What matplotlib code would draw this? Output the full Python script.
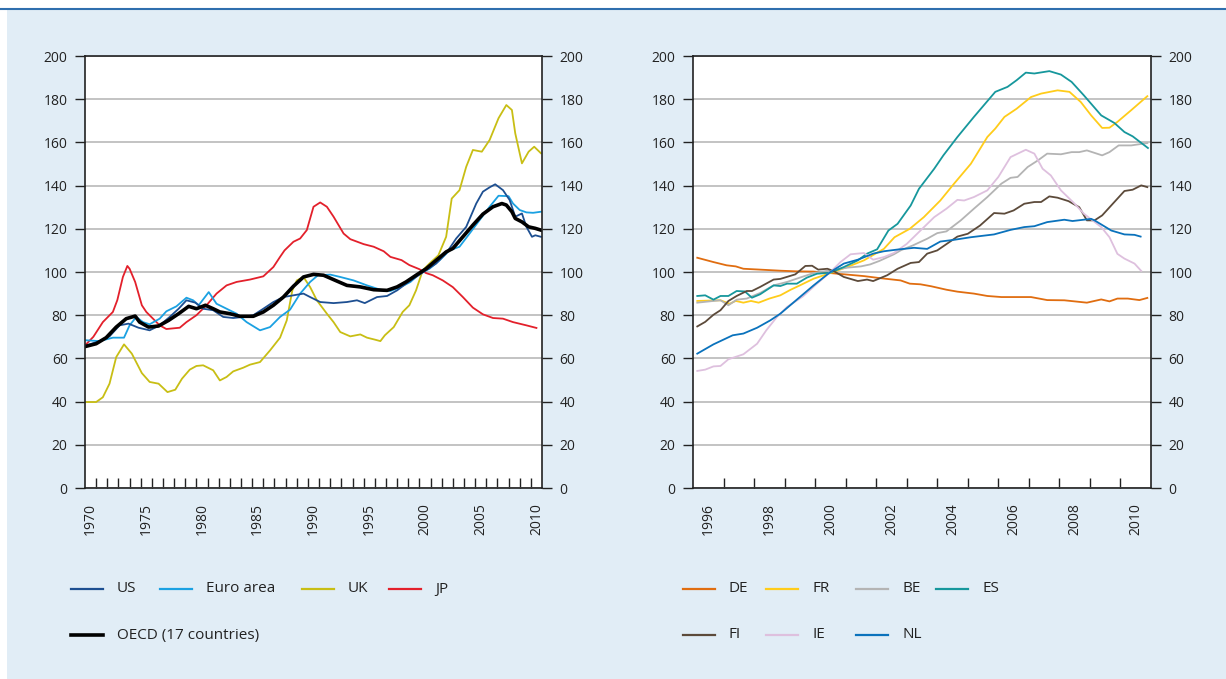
import matplotlib
matplotlib.use("Agg")
import matplotlib.pyplot as plt
from matplotlib.lines import Line2D
from matplotlib.patches import Rectangle

plt.rcParams['font.family'] = ['Open Sans', 'DejaVu Sans']

# ---------------- Data: left panel (1970-2010) ----------------
us_x = [1970.1, 1971.3, 1972.2, 1973.1, 1973.9, 1974.8, 1975.8, 1976.7, 1977.6, 1978.4, 1979.1, 1979.9,
        1980.6, 1981.5, 1982.4, 1983.3, 1984.2, 1985.1, 1986.0, 1986.9, 1987.8, 1988.7, 1989.6, 1990.2,
        1991.1, 1992.3, 1993.5, 1994.4, 1995.1, 1996.2, 1997.1, 1998.0, 1998.8, 1999.7, 2000.6, 2001.5,
        2002.4, 2003.3, 2004.2, 2005.1, 2005.7, 2006.3, 2006.8, 2007.5, 2008.1, 2008.6, 2009.2, 2009.6,
        2010.1, 2010.4, 2010.9]
us_y = [66, 68, 70.2, 75.3, 76.1, 74.2, 73, 75.3, 79.2, 83, 86.9, 85.8,
        83, 82.3, 79.2, 78.7, 79.2, 80, 83, 86.1, 88.4, 89.2, 90, 88.4,
        86.1, 85.6, 86.1, 86.9, 85.6, 88.4, 88.9, 91.5, 94.6, 97.7, 100.8, 103.9,
        108.6, 115.5, 120.9, 131.7, 137.2, 139.2, 140.6, 137.9, 133.3, 125.6, 127.1, 120.9,
        116.3, 117, 116.3]

euro_x = [1970.1, 1971.3, 1972.5, 1973.5, 1974.0, 1974.6, 1975.2, 1975.8, 1976.7, 1977.3, 1978.2, 1979.1,
          1979.7, 1980.2, 1981.1, 1981.8, 1982.7, 1983.6, 1984.5, 1985.7, 1986.6, 1987.5, 1988.4, 1989.3,
          1990.2, 1990.9, 1992.0, 1992.9, 1994.1, 1995.3, 1996.5, 1997.4, 1998.3, 1999.2, 2000.0, 2000.9,
          2001.8, 2002.7, 2003.6, 2004.5, 2005.4, 2006.3, 2007.1, 2008.0, 2008.4, 2009.0, 2009.6, 2010.2,
          2010.9]
euro_y = [68.4, 68, 69.6, 69.6, 75.3, 79.2, 76.8, 75.8, 78.4, 81.8, 84.1, 88.1,
          86.9, 84.6, 90.7, 85.3, 83, 80.7, 76.8, 73, 74.5, 79.2, 82.6, 90,
          95.4, 98.5, 98.8, 97.7, 96.1, 93.8, 91.8, 91.2, 93, 95.4, 99.2, 101.5,
          105.4, 110, 111.7, 117.8, 124, 130.2, 135.3, 135.1, 131.7, 128.7, 127.6, 127.4,
          127.9]

uk_x = [1970.1, 1971.0, 1971.6, 1972.2, 1972.8, 1973.5, 1974.2, 1975.1, 1975.8, 1976.6, 1977.4, 1978.1,
        1978.7, 1979.4, 1980.0, 1980.6, 1981.5, 1982.1, 1982.7, 1983.3, 1984.2, 1984.8, 1985.7, 1986.6,
        1987.5, 1988.1, 1988.6, 1989.0, 1989.6, 1990.2, 1990.8, 1991.7, 1992.3, 1992.9, 1993.8, 1994.7,
        1995.3, 1996.0, 1996.5, 1996.9, 1997.7, 1998.5, 1999.1, 1999.7, 2000.3, 2000.9, 2001.7, 2002.4,
        2002.9, 2003.6, 2004.2, 2004.8, 2005.6, 2006.3, 2007.1, 2007.8, 2008.3, 2008.6, 2009.2, 2009.8,
        2010.3, 2010.9]
uk_y = [39.8, 39.8, 42, 48.3, 60.6, 66.5, 62.2, 53.2, 49.1, 48.3, 44.4, 45.5,
        50.6, 54.8, 56.5, 56.8, 54.5, 49.8, 51.4, 54, 55.7, 57.1, 58.3, 63.7,
        69.6, 77.6, 91.5, 96.1, 97.7, 93, 86.9, 80.7, 76.8, 72.2, 70.2, 71.1,
        69.6, 68.7, 68, 70.7, 74.5, 81.5, 84.6, 91.5, 100.8, 103.9, 107.7, 116.3,
        134, 137.9, 148.7, 156.5, 155.7, 161.1, 171.2, 177.3, 175, 164.2, 150.3, 155.7,
        158, 155]

jp_x = [1970.0, 1970.75, 1971.6, 1972.5, 1972.9, 1973.4, 1973.8, 1974.0, 1974.5, 1975.1, 1975.5, 1976.1,
        1976.7, 1977.3, 1978.5, 1979.1, 1980.0, 1980.9, 1981.8, 1982.7, 1983.6, 1984.8, 1986.0, 1986.9,
        1987.5, 1987.9, 1988.7, 1989.3, 1989.9, 1990.5, 1991.1, 1991.7, 1992.3, 1993.2, 1993.8, 1995.0,
        1995.9, 1996.8, 1997.4, 1998.4, 1999.1, 2000.0, 2000.6, 2001.2, 2002.1, 2003.0, 2003.9, 2004.8,
        2005.7, 2006.6, 2007.5, 2008.4, 2009.6, 2010.5]
jp_y = [66, 70, 76.8, 81.5, 87, 97.7, 102.8, 101.5, 95.4, 84.6, 81.5, 78.4,
        75.3, 73.6, 74.2, 76.8, 80, 84.6, 90, 93.8, 95.4, 96.5, 98, 102.3,
        107, 110, 114, 115.5, 119.4, 130.2, 132.2, 130.2, 125.6, 117.8, 115.2, 112.9,
        111.7, 109.6, 107, 105.5, 103.2, 101.3, 99.5, 98.5, 96.1, 93, 88.4, 83.5,
        80.4, 78.7, 78.4, 76.8, 75.3, 74.1]

oecd_x = [1970.1, 1971.0, 1971.9, 1972.8, 1973.7, 1974.5, 1974.9, 1975.7, 1976.6, 1977.5, 1978.4, 1979.3,
          1980.0, 1980.8, 1981.5, 1982.1, 1983.0, 1983.9, 1985.1, 1986.0, 1986.9, 1987.8, 1988.7, 1989.6,
          1990.5, 1991.4, 1992.6, 1993.5, 1994.7, 1995.9, 1997.1, 1998.0, 1998.8, 1999.7, 2000.6, 2001.5,
          2002.4, 2003.0, 2003.9, 2004.8, 2005.7, 2006.6, 2007.4, 2007.8, 2008.3, 2008.6, 2009.2, 2009.8,
          2010.4, 2010.9]
oecd_y = [65.6, 66.8, 69.6, 74.5, 78.4, 79.6, 76.8, 74.5, 75, 77.6, 80.7, 84.1,
          83, 84.6, 83, 81.5, 80.7, 79.5, 79.5, 81.5, 84.6, 88.4, 93.4, 97.7,
          98.9, 98.5, 95.8, 93.8, 93.1, 91.8, 91.5, 93.1, 95.4, 98.5, 101.5, 105.4,
          109.3, 110.9, 116.3, 121.7, 126.8, 130.2, 131.7, 131, 127.9, 124.8, 123.2, 120.9,
          120.2, 119.4]

# ---------------- Data: right panel (1996-2010) ----------------
de_x = [1996.14, 1996.67, 1997.1, 1997.4, 1997.65, 1998.2, 1998.86, 1999.4, 1999.95, 2000.5, 2001.05, 2001.6,
        2002.1, 2002.8, 2003.1, 2003.45, 2003.8, 2004.3, 2004.66, 2005.2, 2005.64, 2006.1, 2006.6, 2007.07,
        2007.6, 2008.16, 2008.9, 2009.37, 2009.64, 2009.9, 2010.24, 2010.62, 2010.88]
de_y = [106.6, 104.6, 103.1, 102.6, 101.5, 101.1, 100.6, 100.3, 100.2, 99.5, 98.8, 98.1,
        97.2, 96.1, 94.6, 94.3, 93.4, 91.8, 90.9, 90, 88.9, 88.4, 88.4, 88.4,
        87, 86.9, 85.8, 87.3, 86.4, 87.7, 87.7, 87, 88]

fr_x = [1996.14, 1996.9, 1997.2, 1997.4, 1997.65, 1997.9, 1998.15, 1998.5, 1998.86, 1999.2, 1999.5, 1999.95,
        2000.5, 2001.05, 2001.6, 2002.1, 2002.25, 2002.6, 2003.1, 2003.56, 2004.1, 2004.55, 2005.1, 2005.64,
        2005.9, 2006.2, 2006.6, 2007.07, 2007.4, 2007.94, 2008.33, 2008.7, 2009.04, 2009.4, 2009.64, 2009.9,
        2010.35, 2010.88]
fr_y = [86.6, 86.9, 85.3, 86.6, 85.8, 86.6, 85.8, 87.7, 89.2, 91.8, 93.8, 96.9,
        99.5, 102.3, 105.4, 109.5, 110.7, 116.1, 120, 125.4, 133.1, 140.9, 150.1, 162.5,
        166.4, 171.8, 175.6, 181, 182.6, 184.1, 183.4, 178.7, 172.5, 166.7, 166.8, 169.5,
        174.9, 181.4]

be_x = [1996.14, 1996.67, 1996.9, 1997.16, 1997.43, 1997.76, 1998.2, 1998.64, 1999.08, 1999.5, 1999.95, 2000.5,
        2001.05, 2001.5, 2001.8, 2002.1, 2002.58, 2002.8, 2003.2, 2003.67, 2004.0, 2004.3, 2004.77, 2005.2,
        2005.64, 2006.1, 2006.4, 2006.63, 2006.96, 2007.3, 2007.6, 2008.05, 2008.4, 2008.65, 2008.9, 2009.4,
        2009.64, 2009.94, 2010.35, 2010.88]
be_y = [85.8, 86.6, 86.9, 84.6, 87.2, 87.7, 90.3, 93.8, 95.4, 97.4, 99.5, 100.8,
        102, 102.6, 103.5, 105.1, 108.2, 110, 112.3, 115.4, 118, 118.8, 123.9, 129.3,
        134.7, 140.9, 143.6, 144, 148.6, 151.7, 154.8, 154.5, 155.5, 155.5, 156.3, 154,
        155.5, 158.6, 158.6, 159.7]

es_x = [1996.14, 1996.4, 1996.67, 1996.9, 1997.16, 1997.43, 1997.7, 1997.93, 1998.2, 1998.64, 1998.86, 1999.08,
        1999.4, 1999.73, 2000.06, 2000.5, 2000.94, 2001.4, 2001.7, 2002.03, 2002.4, 2002.7, 2003.13, 2003.4,
        2003.9, 2004.2, 2004.66, 2005.2, 2005.9, 2006.3, 2006.6, 2006.9, 2007.18, 2007.67, 2008.05, 2008.4,
        2008.8, 2009.37, 2009.8, 2010.13, 2010.4, 2010.9]
es_y = [88.9, 89.2, 87.2, 88.9, 88.9, 91.2, 91, 88.1, 89.7, 93.8, 93.5, 94.6,
        94.6, 97.4, 99.2, 99.7, 102.3, 105.4, 108.5, 110.5, 119.2, 122.3, 130.8, 138.5,
        147.8, 154, 162.5, 171.8, 183.4, 185.7, 188.8, 192.3, 191.9, 193, 191.4, 188,
        181.8, 172.5, 169, 164.8, 162.8, 157.4]

fi_x = [1996.14, 1996.4, 1996.67, 1996.9, 1997.16, 1997.43, 1997.76, 1997.93, 1998.2, 1998.64, 1998.86, 1999.35,
        1999.68, 1999.9, 2000.1, 2000.4, 2000.6, 2000.94, 2001.4, 2001.7, 2001.9, 2002.36, 2002.7, 2003.13,
        2003.4, 2003.67, 2004.0, 2004.66, 2005.0, 2005.4, 2005.86, 2006.2, 2006.5, 2006.85, 2007.18, 2007.4,
        2007.67, 2007.94, 2008.3, 2008.65, 2008.9, 2009.15, 2009.4, 2009.8, 2010.13, 2010.4, 2010.68, 2010.88]
fi_y = [74.8, 76.9, 80.2, 82.3, 86.6, 88.9, 91.2, 91.2, 93.1, 96.5, 96.8, 98.9,
        102.8, 102.9, 101.1, 101.5, 100.5, 97.7, 95.8, 96.5, 95.8, 98.5, 101.5, 104.2,
        104.6, 108.5, 110, 116.4, 117.7, 121.5, 127.3, 127, 128.5, 131.6, 132.4, 132.4,
        135, 134.4, 132.8, 130, 123.9, 123.9, 126.2, 132.4, 137.5, 138.1, 140.1, 139.3]

ie_x = [1996.14, 1996.4, 1996.67, 1996.9, 1997.16, 1997.65, 1998.1, 1998.4, 1998.75, 1999.08, 1999.6, 2000.06,
        2000.5, 2000.83, 2001.16, 2001.6, 2001.9, 2002.25, 2002.58, 2003.0, 2003.45, 2003.9, 2004.3, 2004.66,
        2004.88, 2005.2, 2005.64, 2006.0, 2006.4, 2006.9, 2007.18, 2007.45, 2007.72, 2008.05, 2008.5, 2008.8,
        2009.37, 2009.64, 2009.9, 2010.13, 2010.46, 2010.68]
ie_y = [54.2, 54.8, 56.3, 56.5, 59.6, 61.9, 66.8, 73, 79.2, 83.8, 88.7, 94.6,
        100, 104.6, 108.2, 108.8, 105.7, 106.9, 108.8, 113, 119.2, 125.4, 129.3, 133.4,
        133.1, 134.7, 137.8, 144, 153.2, 156.6, 154.8, 147.8, 144.7, 137.8, 131.6, 127,
        120.8, 116.1, 108.4, 106.2, 103.9, 100.5]

nl_x = [1996.14, 1996.67, 1997.3, 1997.65, 1998.1, 1998.53, 1998.86, 1999.4, 1999.95, 2000.5, 2000.94, 2001.4,
        2001.9, 2002.25, 2002.7, 2003.24, 2003.67, 2004.1, 2004.55, 2005.1, 2005.86, 2006.4, 2006.85, 2007.18,
        2007.6, 2008.16, 2008.43, 2009.04, 2009.15, 2009.7, 2010.13, 2010.46, 2010.66]
nl_y = [62.2, 66.5, 70.7, 71.5, 74.2, 77.6, 80.7, 87.2, 93.8, 100, 103.9, 105.7,
        108.5, 109.6, 110.4, 111.2, 110.7, 114.1, 114.9, 116.1, 117.4, 119.5, 120.8, 121.2,
        123.1, 124.2, 123.6, 124.6, 123.9, 119.2, 117.4, 117.2, 116.4]

left_series = [
    ("JP", jp_x, jp_y, "#E3202B", 1.3),
    ("UK", uk_x, uk_y, "#C8BE14", 1.3),
    ("Euro area", euro_x, euro_y, "#1BA1E2", 1.3),
    ("US", us_x, us_y, "#1D4F91", 1.3),
    ("OECD (17 countries)", oecd_x, oecd_y, "#000000", 2.6),
]
right_series = [
    ("DE", de_x, de_y, "#E06D10", 1.3),
    ("FR", fr_x, fr_y, "#FFCC1A", 1.3),
    ("BE", be_x, be_y, "#B4B4B4", 1.3),
    ("ES", es_x, es_y, "#16979C", 1.3),
    ("FI", fi_x, fi_y, "#5C4A3A", 1.3),
    ("IE", ie_x, ie_y, "#DEC0DE", 1.3),
    ("NL", nl_x, nl_y, "#0A72BC", 1.3),
]
left_labels = [1970, 1975, 1980, 1985, 1990, 1995, 2000, 2005, 2010]
right_labels = [1996, 1998, 2000, 2002, 2004, 2006, 2008, 2010]
y_ticks = list(range(0, 201, 20))

# ---------------- Figure ----------------
W, H = 1226, 679
fig = plt.figure(figsize=(W / 100, H / 100), dpi=100, facecolor='white')
fig.patches.append(Rectangle((7 / W, 0), 1 - 7 / W, 1 - 10 / H, transform=fig.transFigure,
                             facecolor='#E1EDF6', edgecolor='none', zorder=-10))
fig.lines.append(Line2D([0, 1], [1 - 9 / H] * 2, transform=fig.transFigure, color='#2F6FAE', lw=1.5))

axL = fig.add_axes([85 / W, 1 - 488 / H, 457 / W, 432 / H])
axR = fig.add_axes([693 / W, 1 - 488 / H, 458 / W, 432 / H])
axL.set_zorder(5)
axR.set_zorder(5)


def style(ax, x0, x1, labels):
    ax.set_facecolor('white')
    ax.set_xlim(x0, x1)
    ax.set_ylim(0, 200)
    ax.set_yticks(y_ticks)
    ax.yaxis.grid(True, color='#BEBEBE', lw=1.3)
    ax.set_axisbelow(True)
    ax.tick_params(axis='y', which='major', left=True, right=True, labelleft=True, labelright=True,
                   direction='out', length=7.5, width=1, pad=5, labelsize=10, color='#222222',
                   labelcolor='#222222')
    ax.set_xticks(list(range(x0 + 1, x1)))
    ax.set_xticklabels([])
    ax.set_xticks([v + 0.5 for v in labels], minor=True)
    ax.set_xticklabels([str(v) for v in labels], minor=True, rotation=90)
    ax.tick_params(axis='x', which='major', direction='in', length=7.5, width=1, color='#222222')
    ax.tick_params(axis='x', which='minor', length=0, pad=11, labelsize=10, labelcolor='#222222')
    for s in ax.spines.values():
        s.set_color('#222222')
        s.set_linewidth(1.2)


style(axL, 1970, 2011, left_labels)
style(axR, 1996, 2011, right_labels)

for name, xs, ys, c, lw in left_series:
    axL.plot(xs, ys, color=c, lw=lw, solid_joinstyle='round')
for name, xs, ys, c, lw in right_series:
    axR.plot(xs, ys, color=c, lw=lw, solid_joinstyle='round')

# ---------------- Manual legends ----------------
colors = {n: (c, lw) for n, _, _, c, lw in left_series + right_series}
legend_items = [
    ("US", 71, 589), ("Euro area", 160, 589), ("UK", 302, 589), ("JP", 389, 589),
    ("OECD (17 countries)", 71, 635),
    ("DE", 683, 589), ("FR", 766, 589), ("BE", 856, 589), ("ES", 936, 589),
    ("FI", 683, 635), ("IE", 766, 635), ("NL", 856, 635),
]
for name, px, py in legend_items:
    c, lw = colors[name]
    fig.lines.append(Line2D([px / W, (px + 32) / W], [1 - py / H] * 2, transform=fig.transFigure,
                            color=c, lw=max(lw, 1.6)))
    fig.text((px + 46) / W, 1 - py / H, name, fontsize=11, va='center', ha='left', color='#222222')

fig.savefig("out.png", dpi=100, facecolor=fig.get_facecolor())
